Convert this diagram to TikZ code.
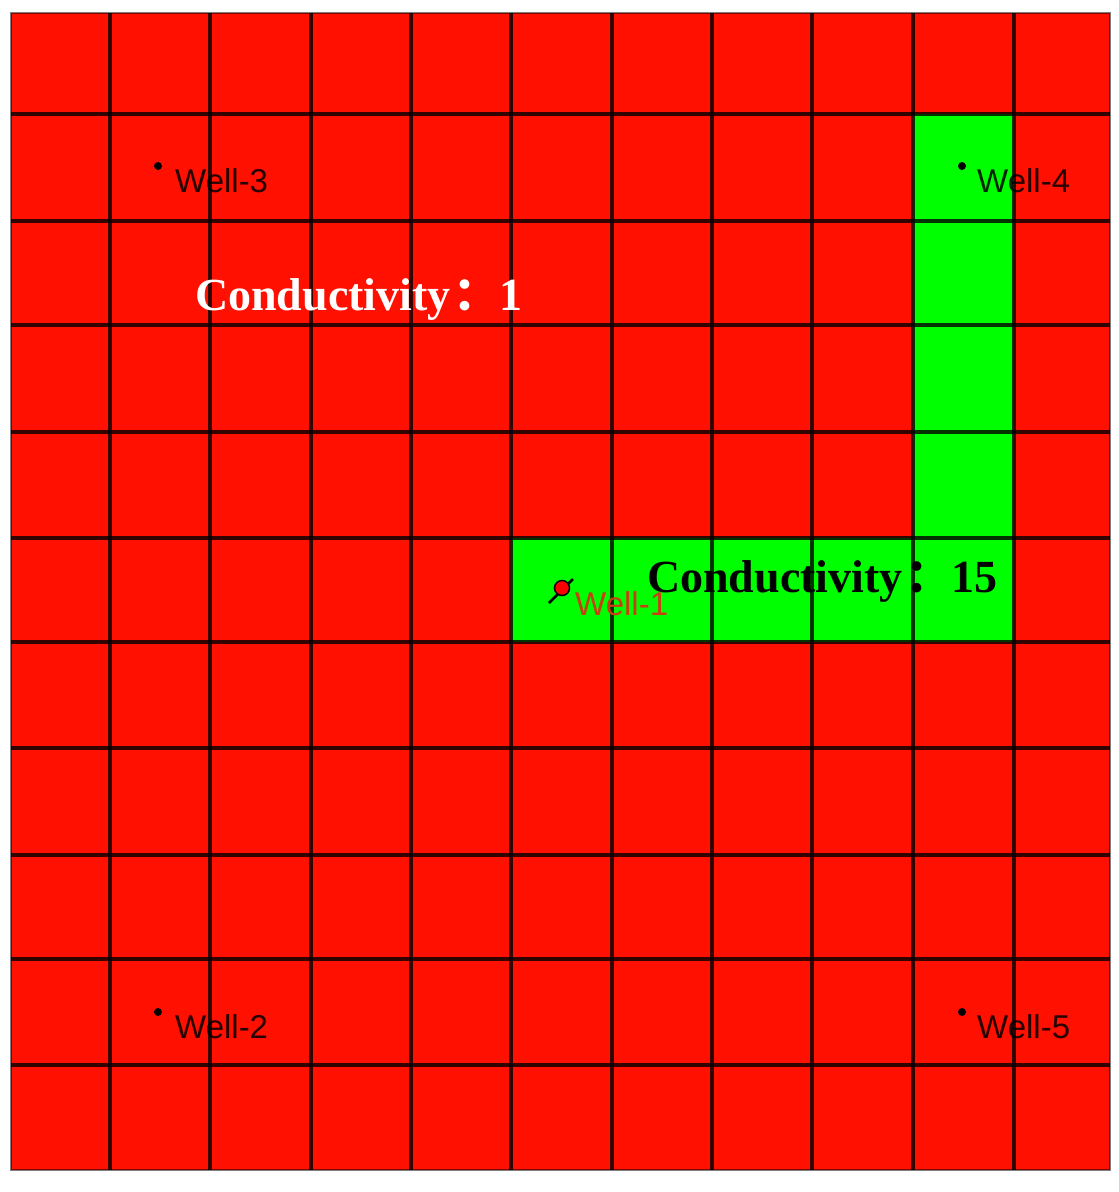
\documentclass[tikz,border=0pt]{standalone}
\usepackage{fontspec}
\setmainfont{Liberation Serif}
\newfontfamily\wellfont{Liberation Sans}
\newfontfamily\cjk{Noto Sans CJK SC}
\definecolor{cellred}{RGB}{255,16,0}
\definecolor{cellgreen}{RGB}{0,255,0}
\definecolor{welltxt}{RGB}{200,64,16}
\tikzset{
  gridline/.style={draw=black, draw opacity=0.8, line width=3.2pt},
  welldot/.style={circle, fill=black, inner sep=0pt, minimum size=8pt},
  welllabel/.style={anchor=base west, inner sep=0pt, text=black, text opacity=0.85, font=\wellfont\fontsize{33}{33}\selectfont},
  condlabel/.style={anchor=base west, inner sep=0pt, font=\bfseries\fontsize{46}{46}\selectfont},
}
\begin{document}
\begin{tikzpicture}[x=1pt,y=-1pt]
\path[fill=white,use as bounding box] (0,0) rectangle (1119,1192);
% background cells
\fill[cellred] (11,13) rectangle (1110,1170);
\fill[cellgreen] (913,114) rectangle (1014,642);
\fill[cellgreen] (511,538) rectangle (1014,642);
% grid
\foreach \x in {110,210,311,411,511,612,712,812,913,1014}
  \draw[gridline] (\x,13) -- (\x,1170);
\foreach \y in {114,221,325,432,538,642,748,855,959,1065}
  \draw[gridline] (11,\y) -- (1110,\y);
\draw[draw=black, draw opacity=0.5, line width=2pt] (11,13) rectangle (1110,1170);
% wells
\node[welldot] (d3) at (158,166) {};
\node[welllabel] (w3) at (175,192) {Well-3};
\node[welldot] (d4) at (962,166) {};
\node[welllabel] (w4) at (977,192) {Well-4};
\node[welldot] (d2) at (158,1012) {};
\node[welllabel] (w2) at (175,1038) {Well-2};
\node[welldot] (d5) at (962,1012) {};
\node[welllabel] (w5) at (977,1038) {Well-5};
% Well-1 marker
\coordinate (m1a) at (549,603);
\coordinate (m1b) at (573,579);
\draw[black, line width=2.6pt] (m1a) -- (m1b);
\node[circle, fill=red, draw=black, line width=1.5pt, inner sep=0pt, minimum size=15pt] (d1) at (562,588) {};
\node[anchor=base west, inner sep=0pt, text=welltxt, font=\wellfont\fontsize{33}{33}\selectfont] (w1) at (575,615) {Well-1};
% conductivity labels
\node[condlabel, text=white] (c1) at (195,310) {Conductivity\hspace{3pt}{\cjk\bfseries ：}1};
\node[condlabel, text=black] (c15) at (647,592) {Conductivity\hspace{3pt}{\cjk\bfseries ：}15};
\end{tikzpicture}
\end{document}
